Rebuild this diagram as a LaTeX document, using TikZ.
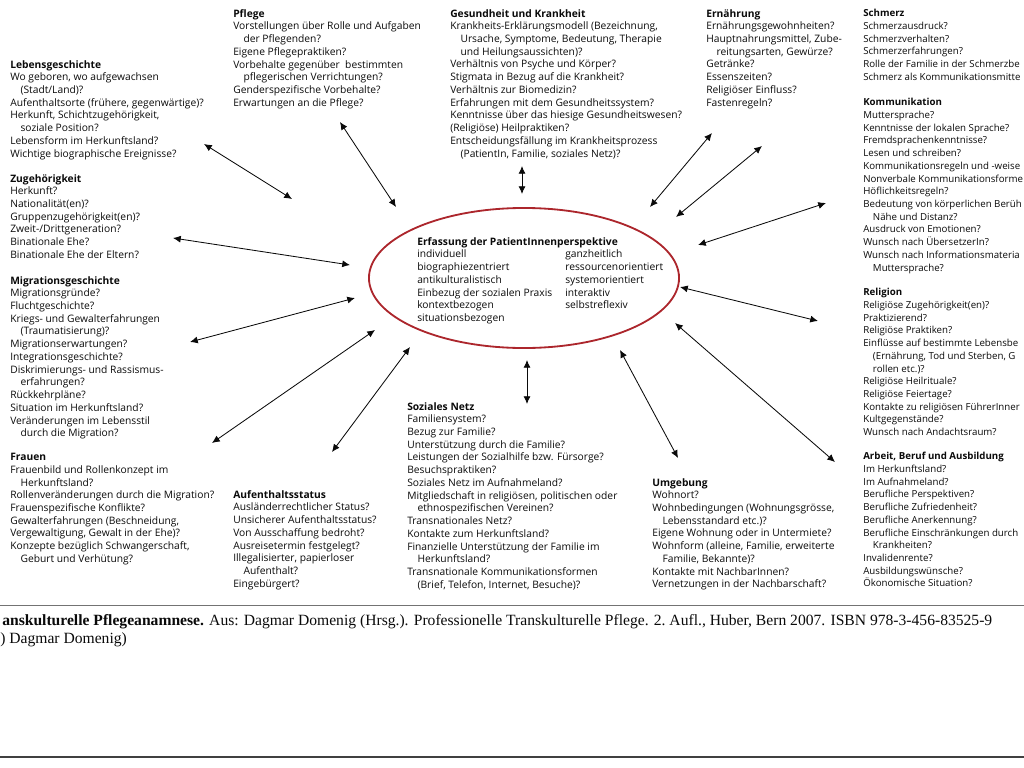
\documentclass[tikz,border=0pt]{standalone}
\usepackage{fontspec}
\setmainfont{Liberation Serif}
\setsansfont{Open Sans}
\usetikzlibrary{positioning, shapes.geometric, arrows.meta}

\definecolor{ellipsenrot}{RGB}{172,38,44}
\definecolor{schrift}{RGB}{10,10,10}
\newcommand{\ein}{\hspace*{1em}}

\begin{document}
\begin{tikzpicture}[x=0.025cm, y=-0.025cm,
  font=\sffamily\fontsize{7.3}{9.05}\selectfont, text=schrift,
  block/.style={anchor=north west, align=left, inner sep=0pt},
  randblock/.style={block, font=\sffamily\fontsize{6.9}{9.05}\selectfont},
  pfeil/.style={{Latex[length=5.5pt,width=5pt]}-{Latex[length=5.5pt,width=5pt]}, line width=0.6pt, schrift},
]
\useasboundingbox (0,0) rectangle (1024,768);

% Mitte
\node[ellipse, draw=ellipsenrot, line width=1.3pt, minimum width=7.75cm, minimum height=3.5cm] (perspektive) at (524,278) {};
\node[anchor=north west, inner sep=0pt] (merkmale) at (417,236) {%
  \begin{tabular}{@{}p{3.7cm}@{}l@{}}
  \multicolumn{2}{@{}l@{}}{\textbf{Erfassung der PatientInnenperspektive}}\\
  individuell & ganzheitlich\\
  biographiezentriert & ressourcenorientiert\\
  antikulturalistisch & systemorientiert\\
  Einbezug der sozialen Praxis & interaktiv\\
  kontextbezogen & selbstreflexiv\\
  situationsbezogen &
  \end{tabular}};

% linke Spalte
\node[block] (leben) at (10,60)
  {\textbf{Lebensgeschichte}\\ Wo geboren, wo aufgewachsen\\ \ein(Stadt/Land)?\\
   Aufenthaltsorte (frühere, gegenwärtige)?\\ Herkunft, Schichtzugehörigkeit,\\
   \ein soziale Position?\\ Lebensform im Herkunftsland?\\ Wichtige biographische Ereignisse?};
\node[block] (zugeh) at (10,174)
  {\textbf{Zugehörigkeit}\\ Herkunft?\\ Nationalität(en)?\\ Gruppenzugehörigkeit(en)?\\
   Zweit-/Drittgeneration?\\ Binationale Ehe?\\ Binationale Ehe der Eltern?};
\node[block] (migra) at (10,276)
  {\textbf{Migrationsgeschichte}\\ Migrationsgründe?\\ Fluchtgeschichte?\\
   Kriegs- und Gewalterfahrungen\\ \ein(Traumatisierung)?\\ Migrationserwartungen?\\
   Integrationsgeschichte?\\ Diskrimierungs- und Rassismus-\\ \ein erfahrungen?\\
   Rückkehrpläne?\\ Situation im Herkunftsland?\\ Veränderungen im Lebensstil\\
   \ein durch die Migration?};
\node[block] (frauen) at (10,453)
  {\textbf{Frauen}\\ Frauenbild und Rollenkonzept im\\ \ein Herkunftsland?\\
   Rollenveränderungen durch die Migration?\\ Frauenspezifische Konflikte?\\
   Gewalterfahrungen (Beschneidung,\\ Vergewaltigung, Gewalt in der Ehe)?\\
   Konzepte bezüglich Schwangerschaft,\\ \ein Geburt und Verhütung?};

% oben
\node[block] (pflege) at (233,9)
  {\textbf{Pflege}\\ Vorstellungen über Rolle und Aufgaben\\ \ein der Pflegenden?\\
   Eigene Pflegepraktiken?\\ Vorbehalte gegenüber\ \ bestimmten\\
   \ein pflegerischen Verrichtungen?\\ Genderspezifische Vorbehalte?\\ Erwartungen an die Pflege?};
\node[block] (gesund) at (450,9)
  {\textbf{Gesundheit und Krankheit}\\ Krankheits-Erklärungsmodell (Bezeichnung,\\
   \ein Ursache, Symptome, Bedeutung, Therapie\\ \ein und Heilungsaussichten)?\\
   Verhältnis von Psyche und Körper?\\ Stigmata in Bezug auf die Krankheit?\\
   Verhältnis zur Biomedizin?\\ Erfahrungen mit dem Gesundheitssystem?\\
   Kenntnisse über das hiesige Gesundheitswesen?\\ (Religiöse) Heilpraktiken?\\
   Entscheidungsfällung im Krankheitsprozess\\ \ein(PatientIn, Familie, soziales Netz)?};
\node[block] (ernaehr) at (706,9)
  {\textbf{Ernährung}\\ Ernährungsgewohnheiten?\\ Hauptnahrungsmittel, Zube-\\
   \ein reitungsarten, Gewürze?\\ Getränke?\\ Essenszeiten?\\ Religiöser Einfluss?\\ Fastenregeln?};

% rechte Spalte
\node[randblock] (schmerz) at (863,9)
  {\textbf{Schmerz}\\ Schmerzausdruck?\\ Schmerzverhalten?\\ Schmerzerfahrungen?\\
   Rolle der Familie in der Schmerzbe\\ Schmerz als Kommunikationsmitte};
\node[randblock] (komm) at (863,98)
  {\textbf{Kommunikation}\\ Muttersprache?\\ Kenntnisse der lokalen Sprache?\\
   Fremdsprachenkenntnisse?\\ Lesen und schreiben?\\ Kommunikationsregeln und -weise\\
   Nonverbale Kommunikationsforme\\ Höflichkeitsregeln?\\ Bedeutung von körperlichen Berüh\\
   \ein Nähe und Distanz?\\ Ausdruck von Emotionen?\\ Wunsch nach ÜbersetzerIn?\\
   Wunsch nach Informationsmateria\\ \ein Muttersprache?};
\node[randblock] (relig) at (863,288)
  {\textbf{Religion}\\ Religiöse Zugehörigkeit(en)?\\ Praktizierend?\\ Religiöse Praktiken?\\
   Einflüsse auf bestimmte Lebensbe\\ \ein(Ernährung, Tod und Sterben, G\\ \ein rollen etc.)?\\
   Religiöse Heilrituale?\\ Religiöse Feiertage?\\ Kontakte zu religiösen FührerInner\\
   Kultgegenstände?\\ Wunsch nach Andachtsraum?};
\node[randblock] (arbeit) at (863,452)
  {\textbf{Arbeit, Beruf und Ausbildung}\\ Im Herkunftsland?\\ Im Aufnahmeland?\\
   Berufliche Perspektiven?\\ Berufliche Zufriedenheit?\\ Berufliche Anerkennung?\\
   Berufliche Einschränkungen durch\\ \ein Krankheiten?\\ Invalidenrente?\\
   Ausbildungswünsche?\\ Ökonomische Situation?};

% unten
\node[block] (aufent) at (233,490)
  {\textbf{Aufenthaltsstatus}\\ Ausländerrechtlicher Status?\\ Unsicherer Aufenthaltsstatus?\\
   Von Ausschaffung bedroht?\\ Ausreisetermin festgelegt?\\ Illegalisierter, papierloser\\
   \ein Aufenthalt?\\ Eingebürgert?};
\node[block] (sozial) at (407,402)
  {\textbf{Soziales Netz}\\ Familiensystem?\\ Bezug zur Familie?\\ Unterstützung durch die Familie?\\
   Leistungen der Sozialhilfe bzw. Fürsorge?\\ Besuchspraktiken?\\ Soziales Netz im Aufnahmeland?\\
   Mitgliedschaft in religiösen, politischen oder\\ \ein ethnospezifischen Vereinen?\\
   Transnationales Netz?\\ Kontakte zum Herkunftsland?\\ Finanzielle Unterstützung der Familie im\\
   \ein Herkunftsland?\\ Transnationale Kommunikationsformen\\ \ein(Brief, Telefon, Internet, Besuche)?};
\node[block] (umgeb) at (652,478)
  {\textbf{Umgebung}\\ Wohnort?\\ Wohnbedingungen (Wohnungsgrösse,\\ \ein Lebensstandard etc.)?\\
   Eigene Wohnung oder in Untermiete?\\ Wohnform (alleine, Familie, erweiterte\\
   \ein Familie, Bekannte)?\\ Kontakte mit NachbarInnen?\\ Vernetzungen in der Nachbarschaft?};

% Pfeilenden
\coordinate (leben-a) at (204,144);   \coordinate (leben-b) at (292,199);
\coordinate (zugeh-a) at (173,238);   \coordinate (zugeh-b) at (350,265);
\coordinate (migra-a) at (190,342);   \coordinate (migra-b) at (355,298);
\coordinate (frauen-a) at (212,443);  \coordinate (frauen-b) at (375,330);
\coordinate (pflege-a) at (340,122);  \coordinate (pflege-b) at (396,207);
\coordinate (gesund-a) at (522,166);  \coordinate (gesund-b) at (522,194);
\coordinate (ernaehr-a) at (712,133); \coordinate (ernaehr-b) at (650,207);
\coordinate (schmerz-a) at (762,146); \coordinate (schmerz-b) at (676,217);
\coordinate (komm-a) at (826,203);    \coordinate (komm-b) at (698,245);
\coordinate (relig-a) at (818,321);   \coordinate (relig-b) at (680,287);
\coordinate (arbeit-a) at (835,462);  \coordinate (arbeit-b) at (675,323);
\coordinate (umgeb-a) at (678,458);   \coordinate (umgeb-b) at (620,350);
\coordinate (aufent-a) at (332,452);  \coordinate (aufent-b) at (410,347);
\coordinate (sozial-a) at (527,404);  \coordinate (sozial-b) at (527,360);

\draw[pfeil] (leben-a) -- (leben-b);
\draw[pfeil] (zugeh-a) -- (zugeh-b);
\draw[pfeil] (migra-a) -- (migra-b);
\draw[pfeil] (frauen-a) -- (frauen-b);
\draw[pfeil] (pflege-a) -- (pflege-b);
\draw[pfeil] (gesund-a) -- (gesund-b);
\draw[pfeil] (ernaehr-a) -- (ernaehr-b);
\draw[pfeil] (schmerz-a) -- (schmerz-b);
\draw[pfeil] (komm-a) -- (komm-b);
\draw[pfeil] (relig-a) -- (relig-b);
\draw[pfeil] (arbeit-a) -- (arbeit-b);
\draw[pfeil] (umgeb-a) -- (umgeb-b);
\draw[pfeil] (aufent-a) -- (aufent-b);
\draw[pfeil] (sozial-a) -- (sozial-b);

% Quelle
\draw[black!55, line width=0.6pt] (0,605) -- (1024,605);
\node[anchor=west, inner sep=0pt, font=\rmfamily\fontsize{11.1}{13}\selectfont] (quelle) at (2,622)
  {\textbf{anskulturelle Pflegeanamnese.} Aus: Dagmar Domenig (Hrsg.). Professionelle Transkulturelle Pflege. 2.~Aufl., Huber, Bern 2007. ISBN 978-3-456-83525-9};
\node[anchor=west, inner sep=0pt, font=\rmfamily\fontsize{11.1}{13}\selectfont] (rechte) at (0,640)
  {) Dagmar Domenig)};
\draw[black!75, line width=1.2pt] (0,757) -- (1024,757);
\end{tikzpicture}
\end{document}
